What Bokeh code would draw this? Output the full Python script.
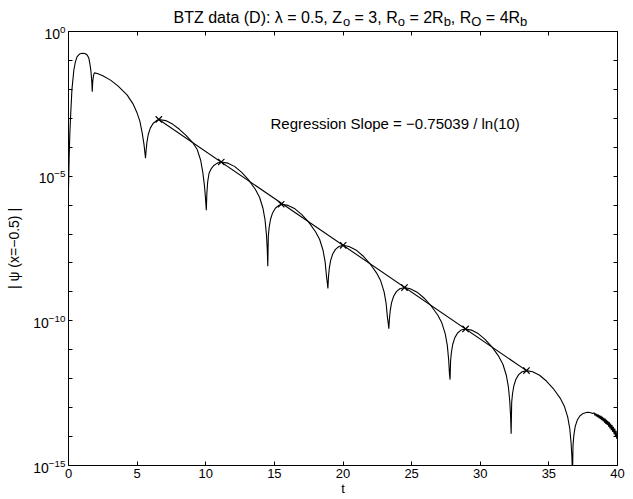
from bokeh.plotting import figure
from bokeh.layouts import column
from bokeh.models import (FixedTicker, LinearAxis, LogAxis, Label, Range1d,
                          LogTickFormatter, CustomJSTickFormatter)
from bokeh.embed import file_html
from bokeh.resources import INLINE

# ---------------- data ----------------
curve_t = [
    0.0, 0.05, 0.1, 0.15, 0.25, 0.39, 0.5, 0.63, 0.8, 1.0, 1.2, 1.36, 1.48, 1.55, 1.63, 1.7,
    1.73, 1.77, 1.83, 1.89, 2.1, 2.5, 3.06, 3.6, 4.28, 4.7, 5.0, 5.2, 5.37, 5.5, 5.57, 5.61,
    5.65, 5.71, 5.81, 5.96, 6.16, 6.41, 6.58,
    7.08, 7.58, 8.08, 8.58, 9.08, 9.38, 9.63, 9.78, 9.9, 9.98, 10.04,
    10.08, 10.14, 10.24, 10.39, 10.59, 10.84, 11.13,
    11.62, 12.12, 12.62, 13.12, 13.62, 13.92, 14.17, 14.32, 14.42, 14.48, 14.52,
    14.56, 14.62, 14.72, 14.87, 15.07, 15.32, 15.5,
    16.0, 16.5, 17.0, 17.5, 18.0, 18.3, 18.55, 18.7, 18.8, 18.86, 18.9,
    18.94, 19.0, 19.1, 19.25, 19.45, 19.7, 20.01,
    20.44, 20.94, 21.44, 21.94, 22.44, 22.74, 22.99, 23.14, 23.24, 23.3, 23.34,
    23.38, 23.44, 23.54, 23.69, 23.89, 24.14, 24.48,
    24.9, 25.4, 25.9, 26.4, 26.9, 27.2, 27.45, 27.6, 27.7, 27.76, 27.8,
    27.84, 27.9, 28.0, 28.15, 28.35, 28.6, 28.93,
    29.35, 29.85, 30.35, 30.85, 31.35, 31.65, 31.9, 32.05, 32.15, 32.21, 32.25,
    32.29, 32.35, 32.45, 32.6, 32.8, 33.05, 33.37,
    33.82, 34.32, 34.82, 35.32, 35.82, 36.12, 36.37, 36.52, 36.62, 36.68, 36.72,
    36.76, 36.82, 36.92, 37.07, 37.27, 37.5, 37.8, 38.0, 38.2,
    38.30, 38.35, 38.40, 38.45, 38.50, 38.55, 38.60, 38.65, 38.70, 38.75, 38.80, 38.85,
    38.90, 38.95, 39.00, 39.05, 39.10, 39.15, 39.20, 39.25, 39.30, 39.35, 39.40, 39.45,
    39.50, 39.55, 39.60, 39.65, 39.70, 39.75, 39.80, 39.85, 39.90, 39.95, 40.00,
]
curve_log10 = [
    -5.4, -4.3, -3.5, -2.95, -2.0, -1.33, -1.05, -0.87, -0.78, -0.75, -0.76, -0.81, -0.92, -1.09, -1.35, -1.75,
    -2.08, -1.7, -1.5, -1.43, -1.45, -1.53, -1.68, -1.88, -2.2, -2.5, -2.82, -3.1, -3.51, -3.9, -4.2, -4.38,
    -4.14, -3.84, -3.56, -3.34, -3.18, -3.08, -3.04,
    -3.08, -3.2, -3.38, -3.6, -3.86, -4.08, -4.45, -4.85, -5.3, -5.75, -6.18,
    -5.61, -5.2, -4.9, -4.75, -4.63, -4.55, -4.51,
    -4.55, -4.67, -4.87, -5.13, -5.46, -5.73, -6.11, -6.51, -7.01, -7.51, -8.11,
    -7.07, -6.77, -6.49, -6.27, -6.11, -6.01, -5.97,
    -6.01, -6.13, -6.33, -6.59, -6.92, -7.19, -7.57, -7.97, -8.47, -8.7, -8.88,
    -8.49, -8.19, -7.91, -7.69, -7.53, -7.43, -7.39,
    -7.43, -7.55, -7.75, -8.01, -8.34, -8.61, -8.99, -9.39, -9.89, -10.1, -10.27,
    -9.95, -9.65, -9.37, -9.15, -8.99, -8.89, -8.85,
    -8.89, -9.01, -9.21, -9.47, -9.8, -10.07, -10.45, -10.85, -11.35, -11.85, -12.03,
    -11.38, -11.08, -10.8, -10.58, -10.42, -10.32, -10.28,
    -10.32, -10.44, -10.64, -10.9, -11.23, -11.5, -11.88, -12.28, -12.78, -13.28, -13.9,
    -12.82, -12.52, -12.24, -12.02, -11.86, -11.76, -11.72,
    -11.76, -11.88, -12.08, -12.34, -12.67, -12.94, -13.32, -13.72, -14.22, -14.72, -15.4,
    -14.3, -13.95, -13.65, -13.43, -13.28, -13.2, -13.16, -13.17, -13.2,
    -13.18, -13.27, -13.20, -13.30, -13.22, -13.33, -13.24, -13.36, -13.27, -13.40, -13.28, -13.43,
    -13.32, -13.47, -13.35, -13.52, -13.38, -13.56, -13.42, -13.60, -13.46, -13.66, -13.50, -13.72,
    -13.55, -13.78, -13.60, -13.84, -13.66, -13.92, -13.72, -14.00, -13.80, -14.08, -13.95,
]
marker_t = [6.58, 11.13, 15.5, 20.01, 24.48, 28.93, 33.37]
marker_log10 = [-3.04, -4.51, -5.97, -7.39, -8.85, -10.28, -11.72]
reg_t = [6.58, 33.37]
reg_log10 = [-3.04, -11.72]

x_ticks = [0, 5, 10, 15, 20, 25, 30, 35, 40]
y_major_exp = [0, -5, -10, -15]
y_minor_exp = [-1, -2, -3, -4, -6, -7, -8, -9, -11, -12, -13, -14]

title_parts = [("BTZ data (D): λ = 0.5, Z", False), ("o", True), (" = 3, R", False),
               ("o", True), (" = 2R", False), ("b", True), (", R", False),
               ("O", True), (" = 4R", False), ("b", True)]
annotation_text = "Regression Slope = \u22120.75039 /  ln(10)"
y_label = "| \u03c8 (x=\u22120.5) |"
x_label = "t"

# ---------------- layout constants ----------------
FONT = "Liberation Sans"
FRAME_W, FRAME_H = 549, 434
BORDER_L, BORDER_R = 68, 8
TOTAL_W = BORDER_L + FRAME_W + BORDER_R
TITLE_H = 28
OVERLAP = 10          # main figure slides up under the title strip (transparent border)
LABEL_SHIFT = 6       # measured offset of rendered alphabetic baseline

# ---------------- main figure ----------------
curve_y = [10.0 ** v for v in curve_log10]
marker_y = [10.0 ** v for v in marker_log10]
reg_y = [10.0 ** v for v in reg_log10]

p = figure(frame_width=FRAME_W, frame_height=FRAME_H, y_axis_type="log",
           x_range=Range1d(0, 40), y_range=Range1d(1e-15, 1.0),
           output_backend="svg", toolbar_location=None,
           min_border_left=BORDER_L, min_border_right=BORDER_R,
           min_border_top=3 + OVERLAP, min_border_bottom=26)
overlap_ok = True
try:
    p.margin = (-OVERLAP, 0, 0, 0)
except Exception:
    overlap_ok = False
if not overlap_ok:
    TITLE_H = 25
    p.min_border_top = 6
p.grid.visible = False
p.outline_line_color = "black"
p.background_fill_color = "white"
p.border_fill_color = None

p.line(curve_t, curve_y, line_color="black", line_width=1.1)
p.line(reg_t, reg_y, line_color="black", line_width=1.1)
p.scatter(marker_t, marker_y, marker="x", size=9, line_color="black", line_width=1.2)

xt = FixedTicker(ticks=x_ticks)
yt = FixedTicker(ticks=[10.0 ** e for e in y_major_exp],
                 minor_ticks=[10.0 ** e for e in y_minor_exp])

xa = p.xaxis[0]
xa.ticker = xt
xa.axis_label = x_label
ya = p.yaxis[0]
ya.ticker = yt
ya.formatter = LogTickFormatter()
ya.axis_label = y_label

top = LinearAxis(ticker=xt, formatter=CustomJSTickFormatter(code="return ''"))
right = LogAxis(ticker=yt, formatter=CustomJSTickFormatter(code="return ''"))
p.add_layout(top, "above")
p.add_layout(right, "right")

for ax in (xa, ya, top, right):
    ax.major_tick_in = 4
    ax.major_tick_out = 0
    ax.minor_tick_in = 4
    ax.minor_tick_out = 0
    ax.axis_line_color = "black"
    ax.major_tick_line_color = "black"
    ax.minor_tick_line_color = "black"
    ax.major_label_text_font = FONT
    ax.major_label_text_font_size = "14px"
    ax.major_label_text_color = "black"
    ax.axis_label_text_font = FONT
    ax.axis_label_text_font_size = "14px"
    ax.axis_label_text_font_style = "normal"
    ax.axis_label_text_color = "black"
for ax in (top, right):
    ax.major_label_standoff = 0
xa.minor_tick_in = 0
top.minor_tick_in = 0
xa.major_label_text_font_size = "13px"
xa.axis_label_text_font_size = "13px"
xa.major_label_standoff = 3
xa.axis_label_standoff = 0
ya.major_label_standoff = 3
ya.axis_label_standoff = 8

p.add_layout(Label(x=14.72, y=10.0 ** -3.19, text=annotation_text, text_font=FONT,
                   text_font_size="15px", text_color="black",
                   text_baseline="alphabetic", text_align="left"))

# ---------------- title strip (pieces so subscripts can be shown) ----------------
tf = figure(width=TOTAL_W, height=TITLE_H,
            x_range=Range1d(BORDER_L, BORDER_L + FRAME_W), y_range=Range1d(0, TITLE_H),
            output_backend="svg", toolbar_location=None,
            x_axis_location=None, y_axis_location=None,
            min_border_left=BORDER_L, min_border_right=BORDER_R,
            min_border_top=0, min_border_bottom=0)
try:
    tf.title = None
except Exception:
    tf.title.visible = False
tf.grid.visible = False
tf.outline_line_color = None
tf.background_fill_color = "white"
tf.border_fill_color = "white"

AW = {'B': 667, 'T': 611, 'Z': 611, ' ': 278, 'd': 556, 'a': 556, 't': 278, '(': 333,
      ')': 333, 'D': 722, ':': 278, 'λ': 556, '=': 584, '0': 556, '.': 278, '5': 556,
      ',': 278, 'o': 556, '3': 556, 'R': 722, '2': 556, 'b': 556, 'O': 778, '4': 556}
main_size, sub_size = 16, 13
target_main, target_sub = (23.0, 26.5) if overlap_ok else (21.0, 24.0)
x_px = 173.0
for txt, is_sub in title_parts:
    size = sub_size if is_sub else main_size
    target = target_sub if is_sub else target_main
    lead = len(txt) - len(txt.lstrip(" "))
    x_px += lead * AW[' '] / 1000.0 * size
    body = txt.lstrip(" ")
    tf.add_layout(Label(x=x_px, y=TITLE_H + LABEL_SHIFT - target, text=body,
                        text_font=FONT, text_font_size=f"{size}px", text_color="black",
                        text_baseline="alphabetic", text_align="left"))
    x_px += sum(AW.get(c, 556) for c in body) / 1000.0 * size

layout = column(tf, p, spacing=0)
open("out.html", "w").write(file_html(layout, INLINE))
